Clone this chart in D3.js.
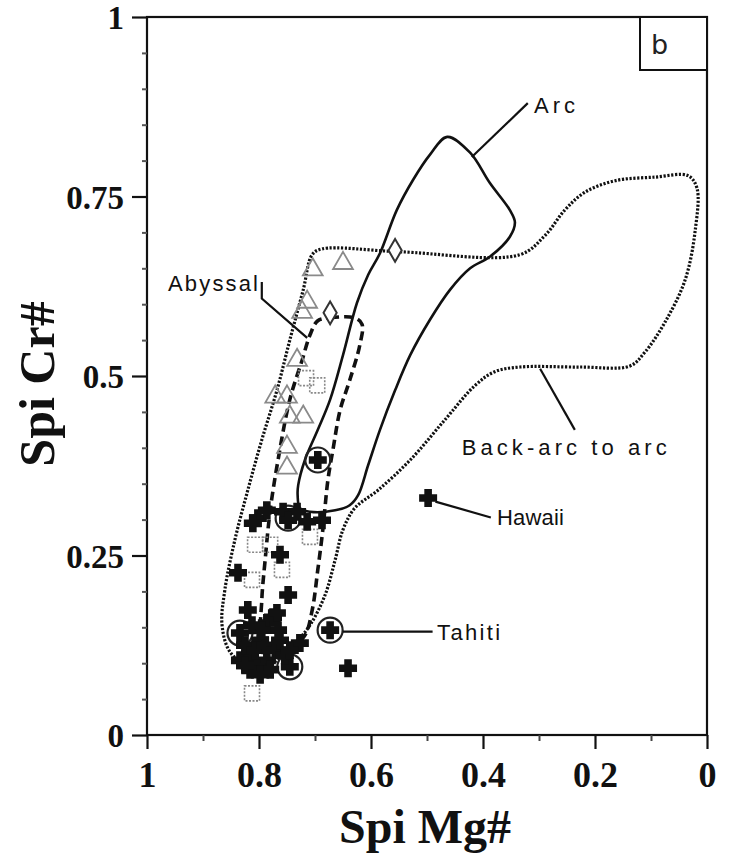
<!DOCTYPE html>
<html>
<head>
<meta charset="utf-8">
<script src="https://cdn.jsdelivr.net/npm/d3@7"></script>
<style>
  html, body { margin: 0; padding: 0; background: #fff; }
  svg { display: block; }
</style>
</head>
<body>
<svg id="chart" width="735" height="865"></svg>
<script>
// Spinel Cr# vs Mg# with tectonic-setting fields

const xTicksMajor = [1, 0.8, 0.6, 0.4, 0.2, 0];
const xTicksMinor = [0.9, 0.7, 0.5, 0.3, 0.1];
const yTicksMajor = [0, 0.25, 0.5, 0.75, 1];
const yTicksMinor = [0.05, 0.1, 0.15, 0.2, 0.3, 0.35, 0.4, 0.45, 0.55, 0.6, 0.65, 0.7, 0.8, 0.85, 0.9, 0.95];

// Field outlines [Mg#, Cr#]
const arcField = [
  [0.464, 0.833], [0.423, 0.811], [0.388, 0.769], [0.352, 0.731], [0.343, 0.714],
  [0.352, 0.694], [0.388, 0.666], [0.423, 0.650], [0.459, 0.620], [0.495, 0.578],
  [0.530, 0.529], [0.557, 0.480], [0.584, 0.425], [0.605, 0.376], [0.623, 0.334],
  [0.638, 0.320], [0.664, 0.313], [0.709, 0.311], [0.727, 0.316], [0.731, 0.334],
  [0.730, 0.348], [0.718, 0.383], [0.695, 0.425], [0.673, 0.467], [0.650, 0.529],
  [0.625, 0.602], [0.605, 0.641], [0.584, 0.671], [0.554, 0.731], [0.525, 0.773],
  [0.495, 0.808]
];
const abyssalField = [
  [0.695, 0.577], [0.673, 0.581], [0.629, 0.581], [0.616, 0.572], [0.620, 0.543],
  [0.638, 0.494], [0.655, 0.453], [0.668, 0.397], [0.677, 0.355], [0.686, 0.286],
  [0.695, 0.230], [0.705, 0.174], [0.718, 0.139], [0.745, 0.121], [0.780, 0.118],
  [0.795, 0.132], [0.795, 0.188], [0.789, 0.244], [0.780, 0.313], [0.766, 0.383],
  [0.745, 0.467], [0.723, 0.522], [0.709, 0.557]
];
const backArcField = [
  [0.6875, 0.677], [0.548, 0.673], [0.334, 0.669], [0.289, 0.696], [0.254, 0.731],
  [0.218, 0.756], [0.164, 0.772], [0.093, 0.777], [0.034, 0.779], [0.018, 0.762],
  [0.021, 0.703], [0.039, 0.634], [0.075, 0.575], [0.111, 0.533], [0.1375, 0.514],
  [0.227, 0.5125], [0.334, 0.5125], [0.379, 0.506], [0.414, 0.487], [0.468, 0.439],
  [0.530, 0.383], [0.5875, 0.341], [0.629, 0.316], [0.650, 0.286], [0.664, 0.244],
  [0.682, 0.195], [0.709, 0.153], [0.739, 0.125], [0.784, 0.097], [0.820, 0.097],
  [0.852, 0.116], [0.866, 0.153], [0.861, 0.202], [0.843, 0.272], [0.820, 0.341],
  [0.795, 0.411], [0.768, 0.480], [0.745, 0.550], [0.721, 0.620], [0.705, 0.669]
];

// Samples [Mg#, Cr#]
const triangles = [
  [0.704, 0.648], [0.650, 0.657], [0.714, 0.603], [0.723, 0.589], [0.732, 0.522],
  [0.771, 0.471], [0.750, 0.471], [0.721, 0.443], [0.745, 0.443], [0.750, 0.401],
  [0.750, 0.372]
];
const diamonds = [[0.557, 0.675], [0.673, 0.588]];
const squares = [
  [0.696, 0.487], [0.716, 0.497], [0.807, 0.265], [0.780, 0.265], [0.709, 0.276],
  [0.759, 0.230], [0.8125, 0.216], [0.8125, 0.058]
];
const crosses = [
  [0.802, 0.302], [0.786, 0.313], [0.757, 0.311], [0.732, 0.311], [0.748, 0.299],
  [0.714, 0.297], [0.6875, 0.299], [0.811, 0.295], [0.7625, 0.251], [0.8375, 0.226],
  [0.820, 0.174], [0.748, 0.195], [0.834, 0.142], [0.786, 0.156], [0.775, 0.164],
  [0.798, 0.132], [0.816, 0.114], [0.834, 0.104], [0.786, 0.104], [0.804, 0.095],
  [0.745, 0.095], [0.727, 0.128], [0.673, 0.146], [0.641, 0.093], [0.768, 0.170],
  [0.695, 0.383], [0.498, 0.330],
  [0.825, 0.125], [0.807, 0.118], [0.789, 0.125], [0.771, 0.118], [0.7625, 0.132],
  [0.754, 0.111], [0.780, 0.091], [0.816, 0.091], [0.798, 0.084], [0.825, 0.097],
  [0.766, 0.146], [0.795, 0.146], [0.8125, 0.153], [0.745, 0.118]
];
const circled = [
  [0.695, 0.383], [0.748, 0.302], [0.834, 0.142], [0.745, 0.095], [0.673, 0.146]
];

// Field and locality labels: anchor [Mg#, Cr#], drawn width, leader polyline
const fieldLabels = [
  { text: "Arc", at: [0.309, 0.866], width: 41, leader: [[0.320, 0.880], [0.420, 0.805]] },
  { text: "Abyssal", at: [0.9625, 0.618], width: 90, leader: [[0.795, 0.631], [0.795, 0.608], [0.714, 0.553]] },
  { text: "Back-arc to arc", at: [0.438, 0.390], width: 205, leader: [[0.298, 0.510], [0.236, 0.425]] },
  { text: "Hawaii", at: [0.375, 0.293], width: 67, leader: [[0.485, 0.325], [0.386, 0.303]] },
  { text: "Tahiti", at: [0.482, 0.132], width: 63, leader: [[0.650, 0.144], [0.490, 0.144]] }
];

const mLeft = 147, mRight = 707, mTop = 17, mBottom = 735;

const svg = d3.select("#chart");
const x = d3.scaleLinear().domain([1, 0]).range([mLeft, mRight]);
const y = d3.scaleLinear().domain([0, 1]).range([mBottom, mTop]);

const serif = "'Liberation Serif', 'Times New Roman', serif";
const sans = "'Liberation Sans', Arial, sans-serif";

// Frame
svg.append("rect")
  .attr("x", mLeft).attr("y", mTop)
  .attr("width", mRight - mLeft).attr("height", mBottom - mTop)
  .attr("fill", "none").attr("stroke", "#111").attr("stroke-width", 2.2);

// Axes
const xAxis = d3.axisBottom(x).tickValues(xTicksMajor).tickSize(14).tickPadding(12)
  .tickFormat(d => d3.format("~g")(d));
const gx = svg.append("g").attr("transform", `translate(0,${mBottom})`).call(xAxis);
gx.select(".domain").remove();
gx.selectAll(".tick line").attr("stroke", "#111").attr("stroke-width", 2.2);
gx.selectAll(".tick text").attr("font-family", serif).attr("font-weight", "bold")
  .attr("font-size", 36).attr("fill", "#111");

const xMinor = d3.axisBottom(x).tickValues(xTicksMinor).tickSize(6).tickFormat("");
const gxm = svg.append("g").attr("transform", `translate(0,${mBottom})`).call(xMinor);
gxm.select(".domain").remove();
gxm.selectAll(".tick line").attr("stroke", "#444").attr("stroke-width", 2);

const yAxis = d3.axisLeft(y).tickValues(yTicksMajor).tickSize(15).tickPadding(8)
  .tickFormat(d => d3.format("~g")(d));
const gy = svg.append("g").attr("transform", `translate(${mLeft},0)`).call(yAxis);
gy.select(".domain").remove();
gy.selectAll(".tick line").attr("stroke", "#111").attr("stroke-width", 2.2);
gy.selectAll(".tick text").attr("font-family", serif).attr("font-weight", "bold")
  .attr("font-size", 33).attr("fill", "#111").attr("dy", "0.36em");

const yMinor = d3.axisLeft(y).tickValues(yTicksMinor).tickSize(5).tickFormat("");
const gym = svg.append("g").attr("transform", `translate(${mLeft},0)`).call(yMinor);
gym.select(".domain").remove();
gym.selectAll(".tick line").attr("stroke", "#555").attr("stroke-width", 2);

// Axis titles
svg.append("text")
  .attr("x", (mLeft + mRight) / 2 - 2).attr("y", 843)
  .attr("text-anchor", "middle")
  .attr("font-family", serif).attr("font-weight", "bold").attr("font-size", 48)
  .attr("fill", "#111").text("Spi Mg#");
svg.append("text")
  .attr("transform", `translate(54,${(mTop + mBottom) / 2 + 8}) rotate(-90)`)
  .attr("text-anchor", "middle")
  .attr("font-family", serif).attr("font-weight", "bold").attr("font-size", 50)
  .attr("fill", "#111").text("Spi Cr#");

// Panel tag
svg.append("rect")
  .attr("x", 640).attr("y", mTop).attr("width", mRight - 640).attr("height", 53)
  .attr("fill", "#fff").attr("stroke", "#111").attr("stroke-width", 2);
svg.append("text")
  .attr("x", 651).attr("y", 54)
  .attr("font-family", "'DejaVu Sans', sans-serif").attr("font-size", 27)
  .attr("fill", "#222").text("b");

const line = d3.line().x(d => x(d[0])).y(d => y(d[1])).curve(d3.curveCatmullRomClosed.alpha(0.5));

// Back-arc to arc field (dotted)
svg.append("path").datum(backArcField)
  .attr("d", line).attr("fill", "none")
  .attr("stroke", "#111").attr("stroke-width", 3.2).attr("stroke-dasharray", "2.2,1.6");

// Abyssal field (dashed)
svg.append("path").datum(abyssalField)
  .attr("d", line).attr("fill", "none")
  .attr("stroke", "#111").attr("stroke-width", 3.6).attr("stroke-dasharray", "9,5");

// Arc field (solid)
svg.append("path").datum(arcField)
  .attr("d", line).attr("fill", "none")
  .attr("stroke", "#111").attr("stroke-width", 2.6);

// Open squares
svg.append("g").selectAll("rect").data(squares).join("rect")
  .attr("x", d => x(d[0]) - 7.5).attr("y", d => y(d[1]) - 7.5)
  .attr("width", 15).attr("height", 15)
  .attr("fill", "none").attr("stroke", "#888").attr("stroke-width", 1.6)
  .attr("stroke-dasharray", "2,1.5");

// Open triangles
const tri = d3.symbol().type(d3.symbolTriangle).size(170);
svg.append("g").selectAll("path").data(triangles).join("path")
  .attr("transform", d => `translate(${x(d[0])},${y(d[1])})`)
  .attr("d", tri).attr("fill", "none").attr("stroke", "#8a8a8a").attr("stroke-width", 1.8);

// Open diamonds
const dia = d3.symbol().type(d3.symbolDiamond).size(150);
svg.append("g").selectAll("path").data(diamonds).join("path")
  .attr("transform", d => `translate(${x(d[0])},${y(d[1])})`)
  .attr("d", dia).attr("fill", "#fff").attr("stroke", "#333").attr("stroke-width", 2);

// Circles around selected crosses
svg.append("g").selectAll("circle").data(circled).join("circle")
  .attr("cx", d => x(d[0])).attr("cy", d => y(d[1])).attr("r", 12.5)
  .attr("fill", "none").attr("stroke", "#222").attr("stroke-width", 2.2);

// Filled crosses
const arm = 9, half = 3.8;
const crossPath = `M${-half},${-arm}H${half}V${-half}H${arm}V${half}H${half}V${arm}H${-half}V${half}H${-arm}V${-half}H${-half}Z`;
svg.append("g").selectAll("path").data(crosses).join("path")
  .attr("transform", d => `translate(${x(d[0])},${y(d[1])})`)
  .attr("d", crossPath).attr("fill", "#111");

// Labels and leaders
const leader = d3.line().x(d => x(d[0])).y(d => y(d[1]));
fieldLabels.forEach(l => {
  svg.append("path").datum(l.leader).attr("d", leader)
    .attr("fill", "none").attr("stroke", "#111").attr("stroke-width", 2.2);
  svg.append("text")
    .attr("x", x(l.at[0])).attr("y", y(l.at[1]))
    .attr("font-family", sans).attr("font-size", 22).attr("fill", "#111")
    .attr("textLength", l.width).attr("lengthAdjust", "spacing")
    .text(l.text);
});
</script>
</body>
</html>
